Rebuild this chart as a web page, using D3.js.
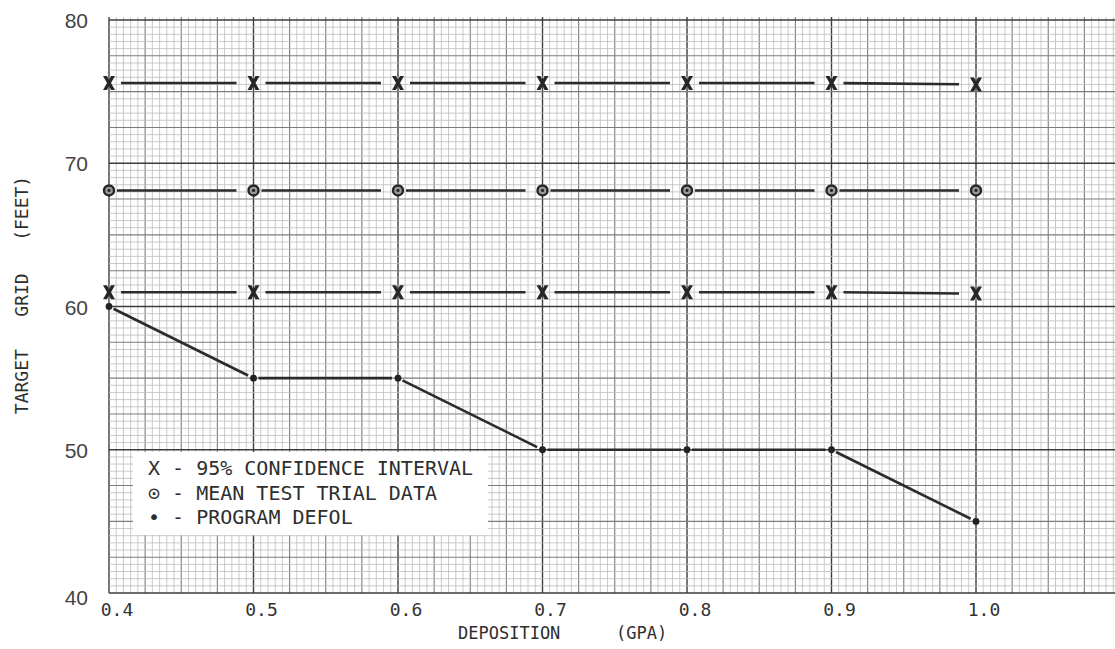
<!DOCTYPE html>
<html>
<head>
<meta charset="utf-8">
<script src="https://cdn.jsdelivr.net/npm/d3@7"></script>
<style>
  body { margin: 0; background: #fff; }
  text { white-space: pre; }
</style>
</head>
<body>
<div id="chart"></div>
<script>
// data
var deposition = [0.4, 0.5, 0.6, 0.7, 0.8, 0.9, 1.0];
var upperCI = [75.6, 75.6, 75.6, 75.6, 75.6, 75.6, 75.5];
var meanTrial = [68.1, 68.1, 68.1, 68.1, 68.1, 68.1, 68.1];
var lowerCI = [61.0, 61.0, 61.0, 61.0, 61.0, 61.0, 60.9];
var programDefol = [60, 55, 55, 50, 50, 50, 45];
var xTicks = [0.4, 0.5, 0.6, 0.7, 0.8, 0.9, 1.0];
var xTickLabels = ["0.4", "0.5", "0.6", "0.7", "0.8", "0.9", "1.0"];
var yTicks = [40, 50, 60, 70, 80];
var legendLines = ["X - 95% CONFIDENCE INTERVAL", "\u2299 - MEAN TEST TRIAL DATA", "\u2022 - PROGRAM DEFOL"];

var width = 1115, height = 649;
var mono = "'DejaVu Sans Mono', monospace";

var svg = d3.select("#chart").append("svg")
    .attr("width", width)
    .attr("height", height);

var xScale = d3.scaleLinear().domain([0.4, 1.0]).range([109, 976]);
var yScale = d3.scaleLinear().domain([40, 80]).range([593, 20]);

//graph paper
var paper = svg.append("g");
var paperTop = yScale(80) - 3;
var paperBottom = yScale(40);
var paperLeft = xScale(0.4);

var vLines = d3.range(0, 140).map(function(i){ return {v: 0.4 + i * 0.005, i: i}; });
var hLines = d3.range(0, 81).map(function(j){ return {v: 40 + j * 0.5, i: j}; });

function lineColor(d){
    if(d.i % 20 == 0) return "#3c3c3c";
    if(d.i % 5 == 0) return "#7c7c7c";
    return "#bdbdbd";
}
function lineWidth(d){
    if(d.i % 20 == 0) return 1.4;
    if(d.i % 5 == 0) return 1.1;
    return 0.8;
}

paper.selectAll(".vline")
    .data(vLines)
    .enter()
    .append("line")
    .attr("class", "vline")
    .attr("x1", function(d){ return xScale(d.v); })
    .attr("x2", function(d){ return xScale(d.v); })
    .attr("y1", paperTop)
    .attr("y2", paperBottom)
    .attr("stroke", lineColor)
    .attr("stroke-width", lineWidth);

paper.selectAll(".hline")
    .data(hLines)
    .enter()
    .append("line")
    .attr("class", "hline")
    .attr("x1", paperLeft)
    .attr("x2", width)
    .attr("y1", function(d){ return yScale(d.v); })
    .attr("y2", function(d){ return yScale(d.v); })
    .attr("stroke", lineColor)
    .attr("stroke-width", lineWidth);

//legend box sits on the paper
var legend = svg.append("g");
legend.append("rect")
    .attr("x", 133)
    .attr("y", 452)
    .attr("width", 355)
    .attr("height", 83)
    .attr("fill", "#fff");
legend.selectAll("text")
    .data(legendLines)
    .enter()
    .append("text")
    .attr("x", 148)
    .attr("y", function(d, i){ return 475 + i * 24.5; })
    .attr("font-family", mono)
    .attr("font-size", 20)
    .attr("fill", "#2e2e2e")
    .text(function(d){ return d; });

//series lines drawn as separate segments with gaps at the markers
function segments(values, gapStart, gapEnd){
    var out = [];
    for(var i = 0; i < values.length - 1; i++){
        var x1 = xScale(deposition[i]), y1 = yScale(values[i]);
        var x2 = xScale(deposition[i + 1]), y2 = yScale(values[i + 1]);
        var len = Math.sqrt((x2 - x1) * (x2 - x1) + (y2 - y1) * (y2 - y1));
        var ux = (x2 - x1) / len, uy = (y2 - y1) / len;
        out.push({x1: x1 + ux * gapStart, y1: y1 + uy * gapStart,
                  x2: x2 - ux * gapEnd, y2: y2 - uy * gapEnd});
    }
    return out;
}

var series = [
    {values: upperCI, g1: 12, g2: 17},
    {values: meanTrial, g1: 8, g2: 17},
    {values: lowerCI, g1: 12, g2: 17},
    {values: programDefol, g1: 5, g2: 6}
];

var lines = svg.append("g");
series.forEach(function(s){
    lines.selectAll(null)
        .data(segments(s.values, s.g1, s.g2))
        .enter()
        .append("line")
        .attr("x1", function(d){ return d.x1; })
        .attr("y1", function(d){ return d.y1; })
        .attr("x2", function(d){ return d.x2; })
        .attr("y2", function(d){ return d.y2; })
        .attr("stroke", "#2b2b2b")
        .attr("stroke-width", 2.6);
});

//markers
var xShape = "M-6,-7L-2,-7L0,-3L2,-7L6,-7L2,0L6,7L2,7L0,3L-2,7L-6,7L-2,0Z";
[upperCI, lowerCI].forEach(function(vals){
    svg.append("g").selectAll("path")
        .data(vals)
        .enter()
        .append("path")
        .attr("d", xShape)
        .attr("transform", function(d, i){ return "translate(" + xScale(deposition[i]) + "," + yScale(d) + ")"; })
        .attr("fill", "#262626");
});

var meanG = svg.append("g");
meanG.selectAll("circle.ring")
    .data(meanTrial)
    .enter()
    .append("circle")
    .attr("class", "ring")
    .attr("cx", function(d, i){ return xScale(deposition[i]); })
    .attr("cy", function(d){ return yScale(d); })
    .attr("r", 5)
    .attr("fill", "#9a9a9a")
    .attr("stroke", "#262626")
    .attr("stroke-width", 2.4);
meanG.selectAll("circle.dot")
    .data(meanTrial)
    .enter()
    .append("circle")
    .attr("class", "dot")
    .attr("cx", function(d, i){ return xScale(deposition[i]); })
    .attr("cy", function(d){ return yScale(d); })
    .attr("r", 1.6)
    .attr("fill", "#262626");

svg.append("g").selectAll("circle")
    .data(programDefol)
    .enter()
    .append("circle")
    .attr("cx", function(d, i){ return xScale(deposition[i]); })
    .attr("cy", function(d){ return yScale(d); })
    .attr("r", 3.4)
    .attr("fill", "#222");

//axis labels
svg.append("g").selectAll("text")
    .data(xTicks)
    .enter()
    .append("text")
    .attr("x", function(d){ return xScale(d) + 8; })
    .attr("y", 616)
    .attr("text-anchor", "middle")
    .attr("font-family", mono)
    .attr("font-size", 18)
    .attr("fill", "#333")
    .text(function(d, i){ return xTickLabels[i]; });

svg.append("g").selectAll("text")
    .data(yTicks)
    .enter()
    .append("text")
    .attr("x", 88)
    .attr("y", function(d){ return yScale(d) + (d == 40 ? 12 : 8); })
    .attr("text-anchor", "end")
    .attr("font-family", "'Liberation Sans', Arial, sans-serif")
    .attr("font-size", 21)
    .attr("fill", "#444")
    .text(function(d){ return d; });

svg.append("text")
    .attr("x", 458)
    .attr("y", 639)
    .attr("font-family", mono)
    .attr("font-size", 17)
    .attr("fill", "#2e2e2e")
    .text("DEPOSITION");
svg.append("text")
    .attr("x", 616)
    .attr("y", 639)
    .attr("font-family", mono)
    .attr("font-size", 17)
    .attr("fill", "#2e2e2e")
    .text("(GPA)");

svg.append("text")
    .attr("transform", "translate(28,295) rotate(-90)")
    .attr("text-anchor", "middle")
    .attr("font-family", mono)
    .attr("font-size", 18)
    .attr("fill", "#2e2e2e")
    .text("TARGET   GRID   (FEET)");
</script>
</body>
</html>
